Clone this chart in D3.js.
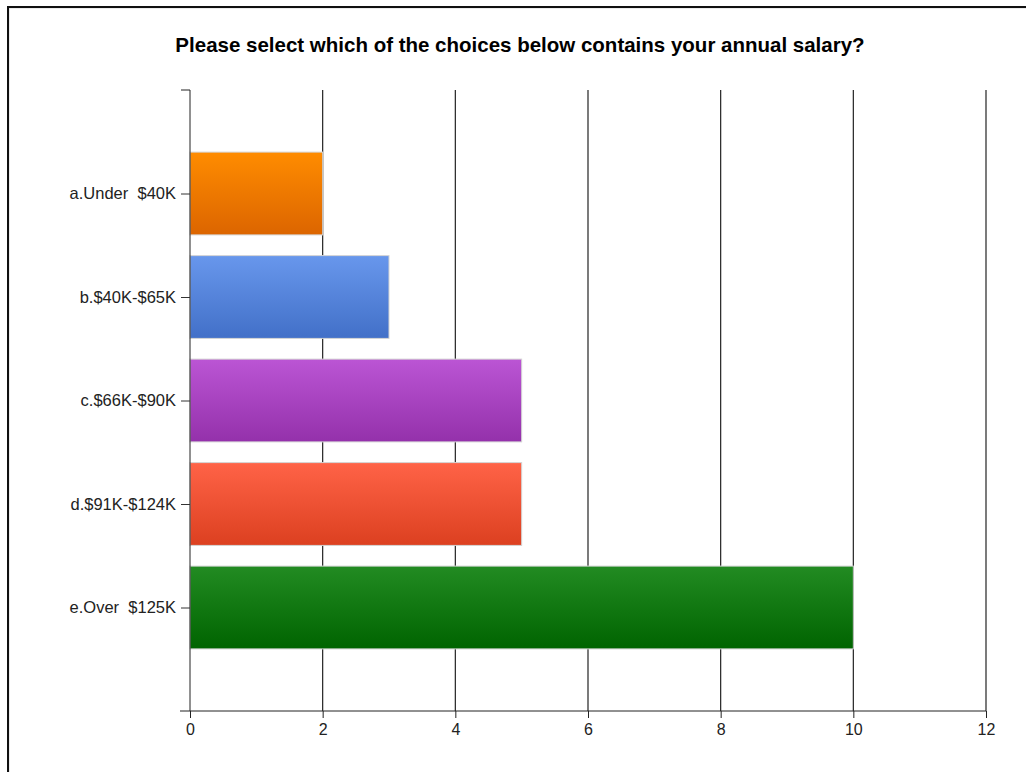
<!DOCTYPE html>
<html>
<head>
<meta charset="utf-8">
<script src="https://cdn.jsdelivr.net/npm/d3@7"></script>
<style>
  body { margin: 0; background: #fff; }
  svg { display: block; font-family: "Liberation Sans", Arial, sans-serif; }
</style>
</head>
<body>
<div id="chart"></div>
<script>
// answers and counts
const categories = ["a.Under  $40K", "b.$40K-$65K", "c.$66K-$90K", "d.$91K-$124K", "e.Over  $125K"];
const counts = [2, 3, 5, 5, 10];
const xTicks = [0, 2, 4, 6, 8, 10, 12];
const topColors = ["#ff8c00", "#6897ec", "#bb55d4", "#ff6347", "#228b22"];
const bottomColors = ["#dc6500", "#4270c8", "#9431ab", "#dc4020", "#006400"];
const title = "Please select which of the choices below contains your annual salary?";

const width = 1026, height = 772;
const margin = { top: 90, right: 40, bottom: 61, left: 190 };

const svg = d3.select("#chart").append("svg")
    .attr("width", width)
    .attr("height", height);

// outer frame (runs off the right and bottom edge)
svg.append("rect")
    .attr("x", 9).attr("y", 8)
    .attr("width", 1030).attr("height", 800)
    .attr("fill", "none")
    .attr("stroke", "#d8d8d8")
    .attr("stroke-width", 1);
svg.append("rect")
    .attr("x", 8).attr("y", 7)
    .attr("width", 1030).attr("height", 800)
    .attr("fill", "none")
    .attr("stroke", "#111")
    .attr("stroke-width", 2);

svg.append("text")
    .attr("x", 520)
    .attr("y", 52)
    .attr("text-anchor", "middle")
    .style("font-size", "20.5px")
    .style("font-weight", "bold")
    .text(title);

const x = d3.scaleLinear()
    .domain([0, 12])
    .range([margin.left, 986]);

const y = d3.scalePoint()
    .domain(categories)
    .range([margin.top, height - margin.bottom])
    .padding(1);

const barH = y.step() * 0.8;

// gradients for each bar
const defs = svg.append("defs");
categories.forEach((c, i) => {
    const g = defs.append("linearGradient")
        .attr("id", "grad" + i)
        .attr("x1", 0).attr("y1", 0)
        .attr("x2", 0).attr("y2", 1);
    g.append("stop").attr("offset", "0%").attr("stop-color", topColors[i]);
    g.append("stop").attr("offset", "100%").attr("stop-color", bottomColors[i]);
});

// vertical grid lines
svg.append("g")
    .selectAll("line")
    .data(xTicks.slice(1))
    .enter()
    .append("line")
    .attr("x1", d => x(d)).attr("x2", d => x(d))
    .attr("y1", margin.top).attr("y2", height - margin.bottom)
    .style("stroke", "#222")
    .style("stroke-width", 1.2);

// bars
svg.append("g")
    .selectAll("rect")
    .data(counts)
    .enter()
    .append("rect")
    .attr("x", x(0))
    .attr("y", (d, i) => y(categories[i]) - barH / 2)
    .attr("width", d => x(d) - x(0))
    .attr("height", barH)
    .attr("fill", (d, i) => "url(#grad" + i + ")")
    .style("stroke", "#d4d4d4")
    .style("stroke-width", 1);

// x axis
const xAxis = svg.append("g")
    .attr("transform", `translate(0,${height - margin.bottom})`)
    .call(d3.axisBottom(x).tickValues(xTicks).tickSizeOuter(0).tickSize(7).tickPadding(6));
xAxis.select(".domain").attr("d", `M${x(0) - 10},0H${x(12)}`).style("stroke", "#222");
xAxis.selectAll(".tick line").style("stroke", "#222");
xAxis.selectAll("text").style("font-size", "16px").style("fill", "#222");

// y axis
const yAxis = svg.append("g")
    .attr("transform", `translate(${margin.left},0)`)
    .call(d3.axisLeft(y).tickSize(9).tickSizeOuter(0).tickPadding(5));
yAxis.select(".domain")
    .attr("d", `M-9,${margin.top}H0V${height - margin.bottom}`)
    .style("stroke", "#222");
yAxis.selectAll(".tick line").style("stroke", "#333");
yAxis.selectAll("text")
    .style("font-size", "16.5px")
    .style("fill", "#222")
    .style("white-space", "pre");
</script>
</body>
</html>
